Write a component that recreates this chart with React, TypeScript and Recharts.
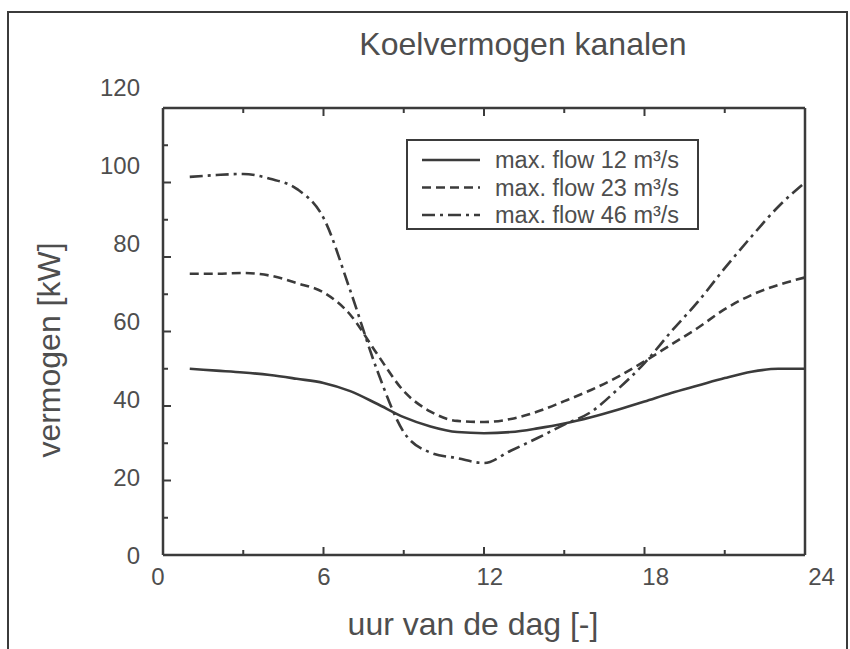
import { Legend, Line, LineChart, XAxis, YAxis } from "recharts";

const hours = [1, 2, 3, 4, 5, 6, 7, 8, 9, 10, 11, 12, 13, 14, 15, 16, 17, 18, 19, 20, 21, 22, 23, 24];
const flow12 = [50, 49.5, 49, 48.3, 47.3, 46.2, 44, 40.6, 37, 34.5, 33, 32.7, 33, 34, 35.3, 37, 39, 41.2, 43.5, 45.5, 47.5, 49.2, 50, 50];
const flow23 = [75.5, 75.5, 75.7, 75, 73, 70.5, 64.5, 54, 44, 38.5, 36, 35.7, 36.5, 38.5, 41.3, 44.3, 47.8, 52, 56.5, 61, 66, 69.8, 72.5, 74.5];
const flow46 = [101.5, 102, 102.3, 101, 98.3, 90.5, 71, 49.7, 33, 27.5, 26, 24.7, 28, 31.4, 35, 38.4, 44.5, 51.5, 60, 68, 77, 85.5, 93.5, 100];
const seriesNames = ["max. flow 12 m³/s", "max. flow 23 m³/s", "max. flow 46 m³/s"];
const xTicks = [0, 3, 6, 9, 12, 15, 18, 21, 24];
const yTicks = [0, 10, 20, 30, 40, 50, 60, 70, 80, 90, 100, 110, 120];

const ink = "#3b3b3b";
const txt = "#4e4e4e";
const font = "'Liberation Sans', Arial, Helvetica, sans-serif";

const data = hours.map((h, i) => ({ h, f12: flow12[i], f23: flow23[i], f46: flow46[i] }));

const series = [
  { key: "f12", name: seriesNames[0], dash: undefined },
  { key: "f23", name: seriesNames[1], dash: "9 5" },
  { key: "f46", name: seriesNames[2], dash: "13 5 3 5" },
];

// ticks point inwards; labels sit a bit off the tick like in the scan
function BottomTick({ x, y, payload }: any) {
  const v = payload.value;
  const major = v % 6 === 0;
  return (
    <g>
      <line x1={x} x2={x} y1={y} y2={y - (major ? 8 : 5)} stroke={ink} strokeWidth={2} />
      {major && (
        <text x={x - 5 + v * 0.9} y={y + 30} textAnchor="middle" fontSize={24} fill={txt} fontFamily={font}>
          {v}
        </text>
      )}
    </g>
  );
}

function TopTick({ x, y, payload }: any) {
  const major = payload.value % 6 === 0;
  return <line x1={x} x2={x} y1={y} y2={y + (major ? 8 : 5)} stroke={ink} strokeWidth={2} />;
}

function LeftTick({ x, y, payload }: any) {
  const v = payload.value;
  const major = v % 20 === 0;
  return (
    <g>
      <line x1={x} x2={x + (major ? 8 : 5)} y1={y} y2={y} stroke={ink} strokeWidth={2} />
      {major && (
        <text x={140} y={y - v * 0.17 + 8.5} textAnchor="end" fontSize={24} fill={txt} fontFamily={font}>
          {v}
        </text>
      )}
    </g>
  );
}

function RightTick({ x, y, payload }: any) {
  const major = payload.value % 20 === 0;
  return <line x1={x} x2={x - (major ? 8 : 5)} y1={y} y2={y} stroke={ink} strokeWidth={2} />;
}

function LegendBox() {
  return (
    <svg width={294} height={92} style={{ display: "block" }}>
      <rect x={1} y={1} width={291} height={89} fill="#fff" stroke={ink} strokeWidth={2} />
      {series.map((s, i) => (
        <g key={s.key}>
          <line x1={16} x2={74} y1={21 + i * 27.5} y2={21 + i * 27.5} stroke={ink} strokeWidth={2.5} strokeDasharray={s.dash} />
          <text x={89} y={29 + i * 27.5} fontSize={23.5} fill={txt} fontFamily={font}>
            {s.name}
          </text>
        </g>
      ))}
    </svg>
  );
}

export default function App() {
  return (
    <div style={{ position: "absolute", left: 0, top: 0, width: 850, height: 649, background: "#fff" }}>
      <LineChart width={850} height={649} data={data} margin={{ top: 107, right: 44, bottom: 93, left: 162 }}>
        <XAxis xAxisId="b" dataKey="h" type="number" domain={[0, 24]} ticks={xTicks} interval={0}
          height={1} tickSize={0} tickMargin={0} tickLine={false} tick={<BottomTick />}
          axisLine={{ stroke: ink, strokeWidth: 2.5 }} />
        <XAxis xAxisId="t" orientation="top" dataKey="h" type="number" domain={[0, 24]} ticks={xTicks} interval={0}
          height={1} tickSize={0} tickMargin={0} tickLine={false} tick={<TopTick />}
          axisLine={{ stroke: ink, strokeWidth: 2.5 }} />
        <YAxis yAxisId="l" type="number" domain={[0, 120]} ticks={yTicks} interval={0}
          width={1} tickSize={0} tickMargin={0} tickLine={false} tick={<LeftTick />}
          axisLine={{ stroke: ink, strokeWidth: 2.5 }} />
        <YAxis yAxisId="r" orientation="right" type="number" domain={[0, 120]} ticks={yTicks} interval={0}
          width={1} tickSize={0} tickMargin={0} tickLine={false} tick={<RightTick />}
          axisLine={{ stroke: ink, strokeWidth: 2.5 }} />
        <Legend layout="vertical" align="center" verticalAlign="middle" content={<LegendBox />}
          wrapperStyle={{ left: 406, top: 139, width: 294, height: 92 }} />
        {series.map((s) => (
          <Line key={s.key} xAxisId="b" yAxisId="l" type="monotone" dataKey={s.key} name={s.name}
            stroke={ink} strokeWidth={2.6} strokeDasharray={s.dash} dot={false} isAnimationActive={false} />
        ))}
      </LineChart>
      <svg width={850} height={649} style={{ position: "absolute", left: 0, top: 0, pointerEvents: "none" }}>
        <path d="M8 649 V12 H847 V649" fill="none" stroke={ink} strokeWidth={2} />
        <text x={523} y={55} textAnchor="middle" fontSize={32} fill={txt} fontFamily={font}>
          Koelvermogen kanalen
        </text>
        <text x={473} y={635} textAnchor="middle" fontSize={32} fill={txt} fontFamily={font}>
          uur van de dag [-]
        </text>
        <text x={60} y={350} textAnchor="middle" fontSize={32} fill={txt} fontFamily={font} transform="rotate(-90 60 350)">
          vermogen [kW]
        </text>
      </svg>
    </div>
  );
}
